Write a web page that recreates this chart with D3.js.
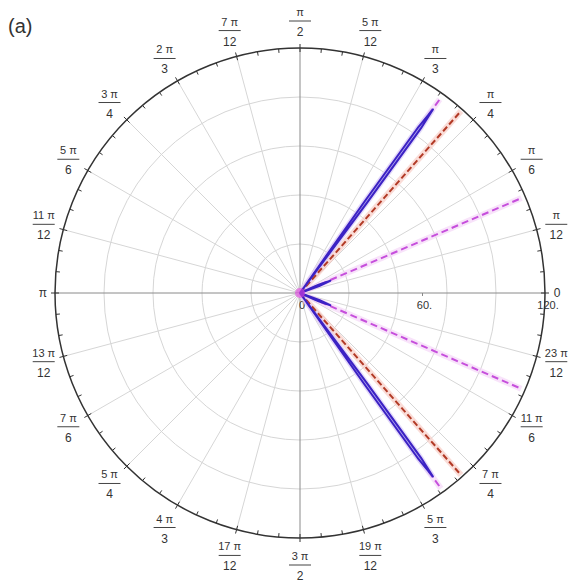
<!DOCTYPE html>
<html>
<head>
<meta charset="utf-8">
<script src="https://cdn.jsdelivr.net/npm/d3@7"></script>
<style>
	body { margin: 0; background: #fff; }
	text { font-family: "Liberation Sans", Arial, sans-serif; fill: #333; }
</style>
</head>
<body>
<svg class="chart"></svg>
<script>

// Angle tick labels, one per 15 degrees, [numerator, denominator]
var angleLabels = [
	["0", null], ["π", "12"], ["π", "6"], ["π", "4"], ["π", "3"], ["5 π", "12"],
	["π", "2"], ["7 π", "12"], ["2 π", "3"], ["3 π", "4"], ["5 π", "6"], ["11 π", "12"],
	["π", null], ["13 π", "12"], ["7 π", "6"], ["5 π", "4"], ["4 π", "3"], ["17 π", "12"],
	["3 π", "2"], ["19 π", "12"], ["5 π", "3"], ["7 π", "4"], ["11 π", "6"], ["23 π", "12"]
];
var spokeAngles = [0, 15, 30, 45, 60, 75, 90, 105, 120, 135, 150, 165,
	180, 195, 210, 225, 240, 255, 270, 285, 300, 315, 330, 345];
var ringValues = [24, 48, 72, 96, 120];
var radialTicks = [0, 60, 120];
var radialTickLabels = ["0", "60.", "120."];

// Series: points as [angle in degrees, radius]
var bluePetalUpper = [[0, 0], [53.4, 55], [53.7, 100], [54.1, 111], [54.5, 100], [54.8, 55], [0, 0]];
var bluePetalLower = [[0, 0], [-53.4, 55], [-53.7, 100], [-54.1, 111], [-54.5, 100], [-54.8, 55], [0, 0]];
var blueLobeUpper = [[0, 0], [20, 10], [22, 16], [24, 10], [0, 0]];
var blueLobeLower = [[0, 0], [-20, 10], [-22, 16], [-24, 10], [0, 0]];
var redRays = [
	[[0, 0], [48.5, 119]],
	[[0, 0], [-48.5, 119]]
];
var magentaRays = [
	[[0, 0], [54.2, 117]],
	[[0, 0], [-54.2, 118]],
	[[0, 0], [23.2, 118]],
	[[0, 0], [-23.4, 118]]
];

var svgWidth = 569,
	svgHeight = 587,
	cx = 300,
	cy = 293,
	outerR = 245;

var chart = d3.select(".chart")
	.attr("width", svgWidth)
	.attr("height", svgHeight);

var r = d3.scaleLinear().domain([0, 120]).range([0, outerR]);
var rad = function(deg) { return deg * Math.PI / 180; };

var g = chart.append("g").attr("transform", "translate(" + cx + "," + cy + ")");

// grid rings
g.selectAll(".ring")
	.data(ringValues.slice(0, -1))
	.enter().append("circle")
	.attr("r", function(d) { return r(d); })
	.attr("fill", "none")
	.attr("stroke", "#d6d6d6")
	.attr("stroke-width", 1);

// spokes
g.selectAll(".spoke")
	.data(spokeAngles)
	.enter().append("line")
	.attr("x1", 0).attr("y1", 0)
	.attr("x2", function(d) { return r(120) * Math.cos(rad(d)); })
	.attr("y2", function(d) { return -r(120) * Math.sin(rad(d)); })
	.attr("stroke", function(d) { return d % 90 === 0 ? "#8a8a8a" : "#d6d6d6"; })
	.attr("stroke-width", 1);

// outer circle
g.append("circle")
	.attr("r", outerR)
	.attr("fill", "none")
	.attr("stroke", "#333")
	.attr("stroke-width", 1.5);

// minor ticks every 5 degrees
var minorTicks = d3.range(0, 360, 5);
g.selectAll(".tick")
	.data(minorTicks)
	.enter().append("line")
	.attr("x1", function(d) { return (outerR - 4) * Math.cos(rad(d)); })
	.attr("y1", function(d) { return -(outerR - 4) * Math.sin(rad(d)); })
	.attr("x2", function(d) { return (outerR + (d % 15 === 0 ? 4 : 0)) * Math.cos(rad(d)); })
	.attr("y2", function(d) { return -(outerR + (d % 15 === 0 ? 4 : 0)) * Math.sin(rad(d)); })
	.attr("stroke", "#333")
	.attr("stroke-width", 1);

// angle labels
var labels = g.selectAll(".alabel")
	.data(angleLabels)
	.enter().append("g")
	.attr("transform", function(d, i) {
		var a = rad(spokeAngles[i]);
		var lr = d[1] ? 263 + 9 * Math.abs(Math.sin(a)) : 257;
		return "translate(" + (lr * Math.cos(a)) + "," + (-lr * Math.sin(a)) + ")";
	});

labels.each(function(d) {
	var sel = d3.select(this);
	if (!d[1]) {
		sel.append("text")
			.attr("text-anchor", "middle")
			.attr("dy", "0.35em")
			.attr("font-size", 12)
			.text(d[0]);
		return;
	}
	sel.append("text")
		.attr("text-anchor", "middle")
		.attr("y", -5)
		.attr("font-size", 11)
		.text(d[0]);
	sel.append("line")
		.attr("x1", -11).attr("x2", 11)
		.attr("y1", 0).attr("y2", 0)
		.attr("stroke", "#444")
		.attr("stroke-width", 1);
	sel.append("text")
		.attr("text-anchor", "middle")
		.attr("y", 15)
		.attr("font-size", 12)
		.text(d[1]);
});

// radial tick labels
g.selectAll(".rlabel")
	.data(radialTicks)
	.enter().append("text")
	.attr("x", function(d, i) { return r(d) + (i === 2 ? 3 : 2); })
	.attr("y", 16)
	.attr("text-anchor", "middle")
	.attr("font-size", 11)
	.text(function(d, i) { return radialTickLabels[i]; });

g.append("line")
	.attr("x1", r(60)).attr("x2", r(60))
	.attr("y1", 0).attr("y2", 3)
	.attr("stroke", "#888");

var line = d3.lineRadial()
	.angle(function(d) { return Math.PI / 2 - rad(d[0]); })
	.radius(function(d) { return r(d[1]); });

// halos
var haloData = redRays.concat(magentaRays);
g.selectAll(".halo")
	.data(haloData)
	.enter().append("path")
	.attr("d", line)
	.attr("fill", "none")
	.attr("stroke", function(d, i) { return i < 2 ? "#f6c4bc" : "#f3d0f6"; })
	.attr("stroke-opacity", 0.6)
	.attr("stroke-width", 6);

g.selectAll(".bhalo")
	.data([bluePetalUpper, bluePetalLower])
	.enter().append("path")
	.attr("d", line)
	.attr("fill", "none")
	.attr("stroke", "#d2c6f6")
	.attr("stroke-opacity", 0.6)
	.attr("stroke-width", 5);

// red dashed
g.selectAll(".red")
	.data(redRays)
	.enter().append("path")
	.attr("d", line)
	.attr("fill", "none")
	.attr("stroke", "#b23a26")
	.attr("stroke-width", 2)
	.attr("stroke-dasharray", "6,3");

// magenta dashed
g.selectAll(".mag")
	.data(magentaRays)
	.enter().append("path")
	.attr("d", line)
	.attr("fill", "none")
	.attr("stroke", "#c64fdc")
	.attr("stroke-width", 2)
	.attr("stroke-dasharray", "7,4");

// blue petals
g.selectAll(".blue")
	.data([bluePetalUpper, bluePetalLower, blueLobeUpper, blueLobeLower])
	.enter().append("path")
	.attr("d", line)
	.attr("fill", "#b4a8f0")
	.attr("stroke", "#3b22c4")
	.attr("stroke-width", 2)
	.attr("stroke-linejoin", "round");

// glow at origin
g.append("circle")
	.attr("r", 5)
	.attr("fill", "#e040e0")
	.attr("fill-opacity", 0.6);

// panel label
chart.append("text")
	.attr("x", 8)
	.attr("y", 33)
	.attr("font-size", 20)
	.text("(a)");

</script>
</body>
</html>
